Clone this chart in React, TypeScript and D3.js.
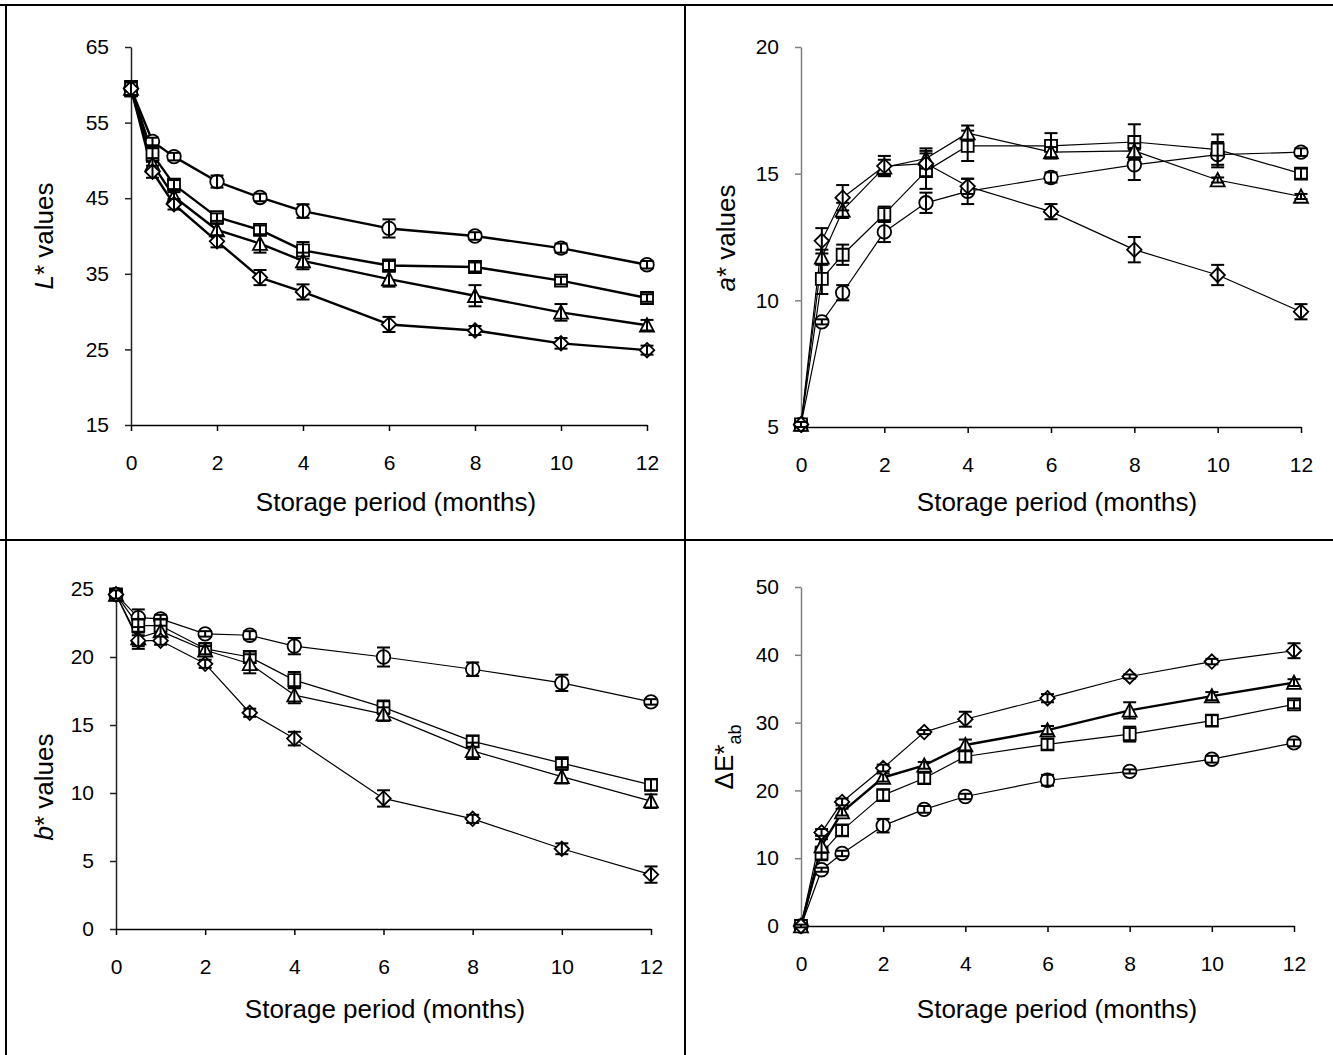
import React, { useEffect, useRef } from 'react';
import * as d3 from 'd3';

const months = [0, 0.5, 1, 2, 3, 4, 6, 8, 10, 12];
const xTicks = [0, 2, 4, 6, 8, 10, 12];

// L* values
const lCircle = [59.5, 52.5, 50.5, 47.2, 45.1, 43.3, 41.0, 40.0, 38.4, 36.2];
const lCircleErr = [1.0, 0.5, 0.5, 0.8, 0.5, 0.9, 1.2, 0.5, 0.6, 0.5];
const lSquare = [59.5, 50.8, 46.8, 42.5, 40.8, 38.1, 36.1, 35.9, 34.1, 31.8];
const lSquareErr = [1.0, 1.0, 0.6, 0.5, 0.6, 1.1, 0.6, 0.6, 0.5, 0.5];
const lTriangle = [59.5, 49.5, 45.2, 40.8, 39.0, 36.7, 34.3, 32.1, 29.9, 28.2];
const lTriangleErr = [1.0, 0.8, 0.6, 0.8, 1.2, 1.1, 1.0, 1.4, 1.1, 0.7];
const lDiamond = [59.5, 48.5, 44.2, 39.3, 34.5, 32.6, 28.3, 27.5, 25.8, 24.9];
const lDiamondErr = [1.0, 0.8, 0.7, 0.8, 1.0, 1.0, 1.0, 0.6, 0.7, 0.6];
const lTicks = [15, 25, 35, 45, 55, 65];

// a* values
const aCircle = [5.1, 9.15, 10.3, 12.7, 13.85, 14.3, 14.85, 15.35, 15.75, 15.85];
const aCircleErr = [0.1, 0.1, 0.3, 0.4, 0.4, 0.5, 0.2, 0.6, 0.5, 0.15];
const aSquare = [5.1, 10.85, 11.8, 13.4, 15.1, 16.1, 16.1, 16.25, 15.95, 15.0];
const aSquareErr = [0.1, 0.6, 0.4, 0.3, 0.7, 0.6, 0.5, 0.7, 0.6, 0.2];
const aTriangle = [5.1, 11.7, 13.55, 15.25, 15.6, 16.6, 15.85, 15.9, 14.75, 14.1];
const aTriangleErr = [0.1, 0.3, 0.3, 0.3, 0.4, 0.3, 0.2, 0.3, 0.1, 0.1];
const aDiamond = [5.1, 12.35, 14.05, 15.3, 15.4, 14.5, 13.5, 12.0, 11.0, 9.55];
const aDiamondErr = [0.1, 0.5, 0.5, 0.4, 0.5, 0.3, 0.3, 0.5, 0.4, 0.3];
const aTicks = [5, 10, 15, 20];

// b* values
const bCircle = [24.6, 22.9, 22.8, 21.7, 21.6, 20.8, 20.0, 19.1, 18.1, 16.7];
const bCircleErr = [0.3, 0.6, 0.3, 0.2, 0.3, 0.6, 0.7, 0.5, 0.6, 0.2];
const bSquare = [24.6, 22.3, 22.3, 20.6, 20.0, 18.3, 16.3, 13.8, 12.2, 10.6];
const bSquareErr = [0.3, 0.5, 0.5, 0.4, 0.4, 0.6, 0.5, 0.4, 0.3, 0.4];
const bTriangle = [24.6, 21.4, 21.9, 20.5, 19.5, 17.2, 15.8, 13.1, 11.2, 9.4];
const bTriangleErr = [0.3, 0.8, 0.4, 0.3, 0.7, 0.6, 0.5, 0.6, 0.5, 0.5];
const bDiamond = [24.6, 21.2, 21.2, 19.5, 15.9, 14.0, 9.6, 8.1, 5.9, 4.0];
const bDiamondErr = [0.3, 0.4, 0.3, 0.3, 0.3, 0.5, 0.6, 0.3, 0.4, 0.6];
const bTicks = [0, 5, 10, 15, 20, 25];

// delta E*ab values
const eCircle = [0, 8.3, 10.7, 14.8, 17.2, 19.1, 21.5, 22.8, 24.6, 27.0];
const eCircleErr = [0.2, 0.3, 0.4, 1.0, 0.5, 0.4, 0.8, 0.3, 0.5, 0.5];
const eSquare = [0, 10.7, 14.1, 19.3, 21.8, 25.0, 26.8, 28.3, 30.3, 32.7];
const eSquareErr = [0.2, 1.0, 0.8, 0.8, 0.8, 0.8, 0.8, 1.1, 0.8, 0.6];
const eTriangle = [0, 11.8, 16.8, 21.9, 23.7, 26.7, 28.9, 31.8, 33.9, 35.9];
const eTriangleErr = [0.2, 1.0, 0.5, 0.6, 0.5, 0.8, 0.6, 1.2, 0.6, 0.5];
const eDiamond = [0, 13.8, 18.3, 23.3, 28.6, 30.5, 33.6, 36.8, 39.0, 40.6];
const eDiamondErr = [0.2, 0.5, 0.5, 0.5, 0.3, 1.1, 0.6, 0.3, 0.4, 1.1];
const eTicks = [0, 10, 20, 30, 40, 50];

const FONT = 'Arial, "Liberation Sans", sans-serif';

// marker shapes for d3.symbol
const triangleType = {
    draw(context, size) {
        const r = Math.sqrt(size) / 2;
        context.moveTo(0, -r);
        context.lineTo(r, r * 0.9);
        context.lineTo(-r, r * 0.9);
        context.closePath();
    }
};
const diamondType = {
    draw(context, size) {
        const r = Math.sqrt(size) / 2;
        context.moveTo(0, -r);
        context.lineTo(r, 0);
        context.lineTo(0, r);
        context.lineTo(-r, 0);
        context.closePath();
    }
};
const markers = [
    d3.symbol(d3.symbolCircle, Math.PI * 46),
    d3.symbol(d3.symbolSquare, 144),
    d3.symbol(triangleType, 196),
    d3.symbol(diamondType, 210),
];

const panels = [
    {
        xRange: [131, 647], yRange: [425, 47], yDomain: [15, 65], yTicks: lTicks, axisColor: '#222',
        series: [[lCircle, lCircleErr], [lSquare, lSquareErr], [lTriangle, lTriangleErr], [lDiamond, lDiamondErr]],
        lineWidths: [2.4, 2.4, 2.4, 2.4],
        label: 'L', labelX: 44, labelY: 236, titleX: 396, titleY: 502,
    },
    {
        xRange: [801, 1301], yRange: [427, 47], yDomain: [5, 20], yTicks: aTicks, axisColor: '#808080',
        series: [[aCircle, aCircleErr], [aSquare, aSquareErr], [aTriangle, aTriangleErr], [aDiamond, aDiamondErr]],
        lineWidths: [1.2, 1.2, 1.2, 1.2],
        label: 'a', labelX: 726, labelY: 238, titleX: 1057, titleY: 502,
    },
    {
        xRange: [116, 651], yRange: [929, 589], yDomain: [0, 25], yTicks: bTicks, axisColor: '#222',
        series: [[bCircle, bCircleErr], [bSquare, bSquareErr], [bTriangle, bTriangleErr], [bDiamond, bDiamondErr]],
        lineWidths: [1.2, 1.2, 1.2, 1.2],
        label: 'b', labelX: 44, labelY: 787, titleX: 385, titleY: 1009,
    },
    {
        xRange: [801, 1294], yRange: [926, 587], yDomain: [0, 50], yTicks: eTicks, axisColor: '#808080',
        series: [[eCircle, eCircleErr], [eSquare, eSquareErr], [eTriangle, eTriangleErr], [eDiamond, eDiamondErr]],
        lineWidths: [1.2, 1.2, 2.4, 1.2],
        label: 'E', labelX: 724, labelY: 757, titleX: 1057, titleY: 1009,
    },
];

const drawPanel = (svg, p) => {
    const g = svg.append('g');
    const x = d3.scaleLinear().domain([0, 12]).range(p.xRange);
    const y = d3.scaleLinear().domain(p.yDomain).range(p.yRange);

    const yAxis = d3.axisLeft(y).tickValues(p.yTicks).tickSize(6).tickSizeOuter(0).tickPadding(16);
    const gy = g.append('g').attr('transform', `translate(${p.xRange[0]},0)`).call(yAxis);
    gy.select('.domain').attr('stroke', p.axisColor).attr('stroke-width', 1.5);
    gy.selectAll('.tick line').attr('stroke', p.axisColor).attr('stroke-width', 1.5);

    const xAxis = d3.axisBottom(x).tickValues(xTicks).tickSize(6).tickSizeOuter(0).tickPadding(24);
    const gx = g.append('g').attr('transform', `translate(0,${p.yRange[0]})`).call(xAxis);
    gx.select('.domain').attr('stroke', '#000').attr('stroke-width', 1.5);
    gx.selectAll('.tick line').attr('stroke', '#000').attr('stroke-width', 1.5);

    g.selectAll('.tick text').attr('font-family', FONT).attr('font-size', 21).attr('fill', '#000');

    // lines first
    const line = d3.line().x((d, i) => x(months[i])).y(d => y(d));
    p.series.forEach(([vals], si) => {
        g.append('path')
            .datum(vals)
            .attr('d', line)
            .attr('fill', 'none')
            .attr('stroke', '#000')
            .attr('stroke-width', p.lineWidths[si])
            .attr('stroke-linejoin', 'round');
    });

    // markers and error bars
    p.series.forEach(([vals, errs], si) => {
        g.append('g').selectAll('path')
            .data(vals)
            .enter()
            .append('path')
            .attr('d', markers[si])
            .attr('transform', (d, i) => `translate(${x(months[i])},${y(d)})`)
            .attr('fill', '#fff')
            .attr('stroke', '#000')
            .attr('stroke-width', 1.8);

        const eb = g.append('g').attr('stroke', '#000').attr('stroke-width', 2);
        vals.forEach((v, i) => {
            const cx = x(months[i]);
            const top = y(v + errs[i]);
            const bot = y(v - errs[i]);
            eb.append('line').attr('x1', cx).attr('x2', cx).attr('y1', top).attr('y2', bot);
            eb.append('line').attr('x1', cx - 6.5).attr('x2', cx + 6.5).attr('y1', top).attr('y2', top);
            eb.append('line').attr('x1', cx - 6.5).attr('x2', cx + 6.5).attr('y1', bot).attr('y2', bot);
        });
    });

    // axis titles
    g.append('text')
        .attr('x', p.titleX)
        .attr('y', p.titleY)
        .attr('dy', '0.35em')
        .attr('text-anchor', 'middle')
        .attr('font-family', FONT)
        .attr('font-size', 26)
        .text('Storage period (months)');

    const yt = g.append('text')
        .attr('transform', `translate(${p.labelX},${p.labelY}) rotate(-90)`)
        .attr('dy', '0.35em')
        .attr('text-anchor', 'middle')
        .attr('font-family', FONT)
        .attr('font-size', 26);
    if (p.label === 'E') {
        yt.append('tspan').attr('font-style', 'normal').text('\u0394E*');
        yt.append('tspan').attr('font-size', 18).attr('dy', 8).text('ab');
    } else {
        yt.append('tspan').attr('font-style', 'italic').text(p.label);
        yt.append('tspan').text('* values');
    }
};

const draw = (node) => {
    const svg = d3.select(node);
    svg.selectAll('*').remove();
    svg.append('rect').attr('width', 1333).attr('height', 1055).attr('fill', '#fff');

    // table cell borders
    const borders = svg.append('g').attr('stroke', '#000').attr('stroke-width', 2);
    borders.append('line').attr('x1', 0).attr('x2', 1333).attr('y1', 5).attr('y2', 5);
    borders.append('line').attr('x1', 0).attr('x2', 1333).attr('y1', 540).attr('y2', 540);
    borders.append('line').attr('x1', 6).attr('x2', 6).attr('y1', 4).attr('y2', 1055);
    borders.append('line').attr('x1', 685).attr('x2', 685).attr('y1', 4).attr('y2', 1055);

    panels.forEach(p => drawPanel(svg, p));
};

export default function App() {
    const ref = useRef(null);
    useEffect(() => {
        draw(ref.current);
    }, []);
    return (
        <svg
            ref={ref}
            width={1333}
            height={1055}
            style={{ position: 'absolute', left: 0, top: 0, display: 'block' }}
        />
    );
}
